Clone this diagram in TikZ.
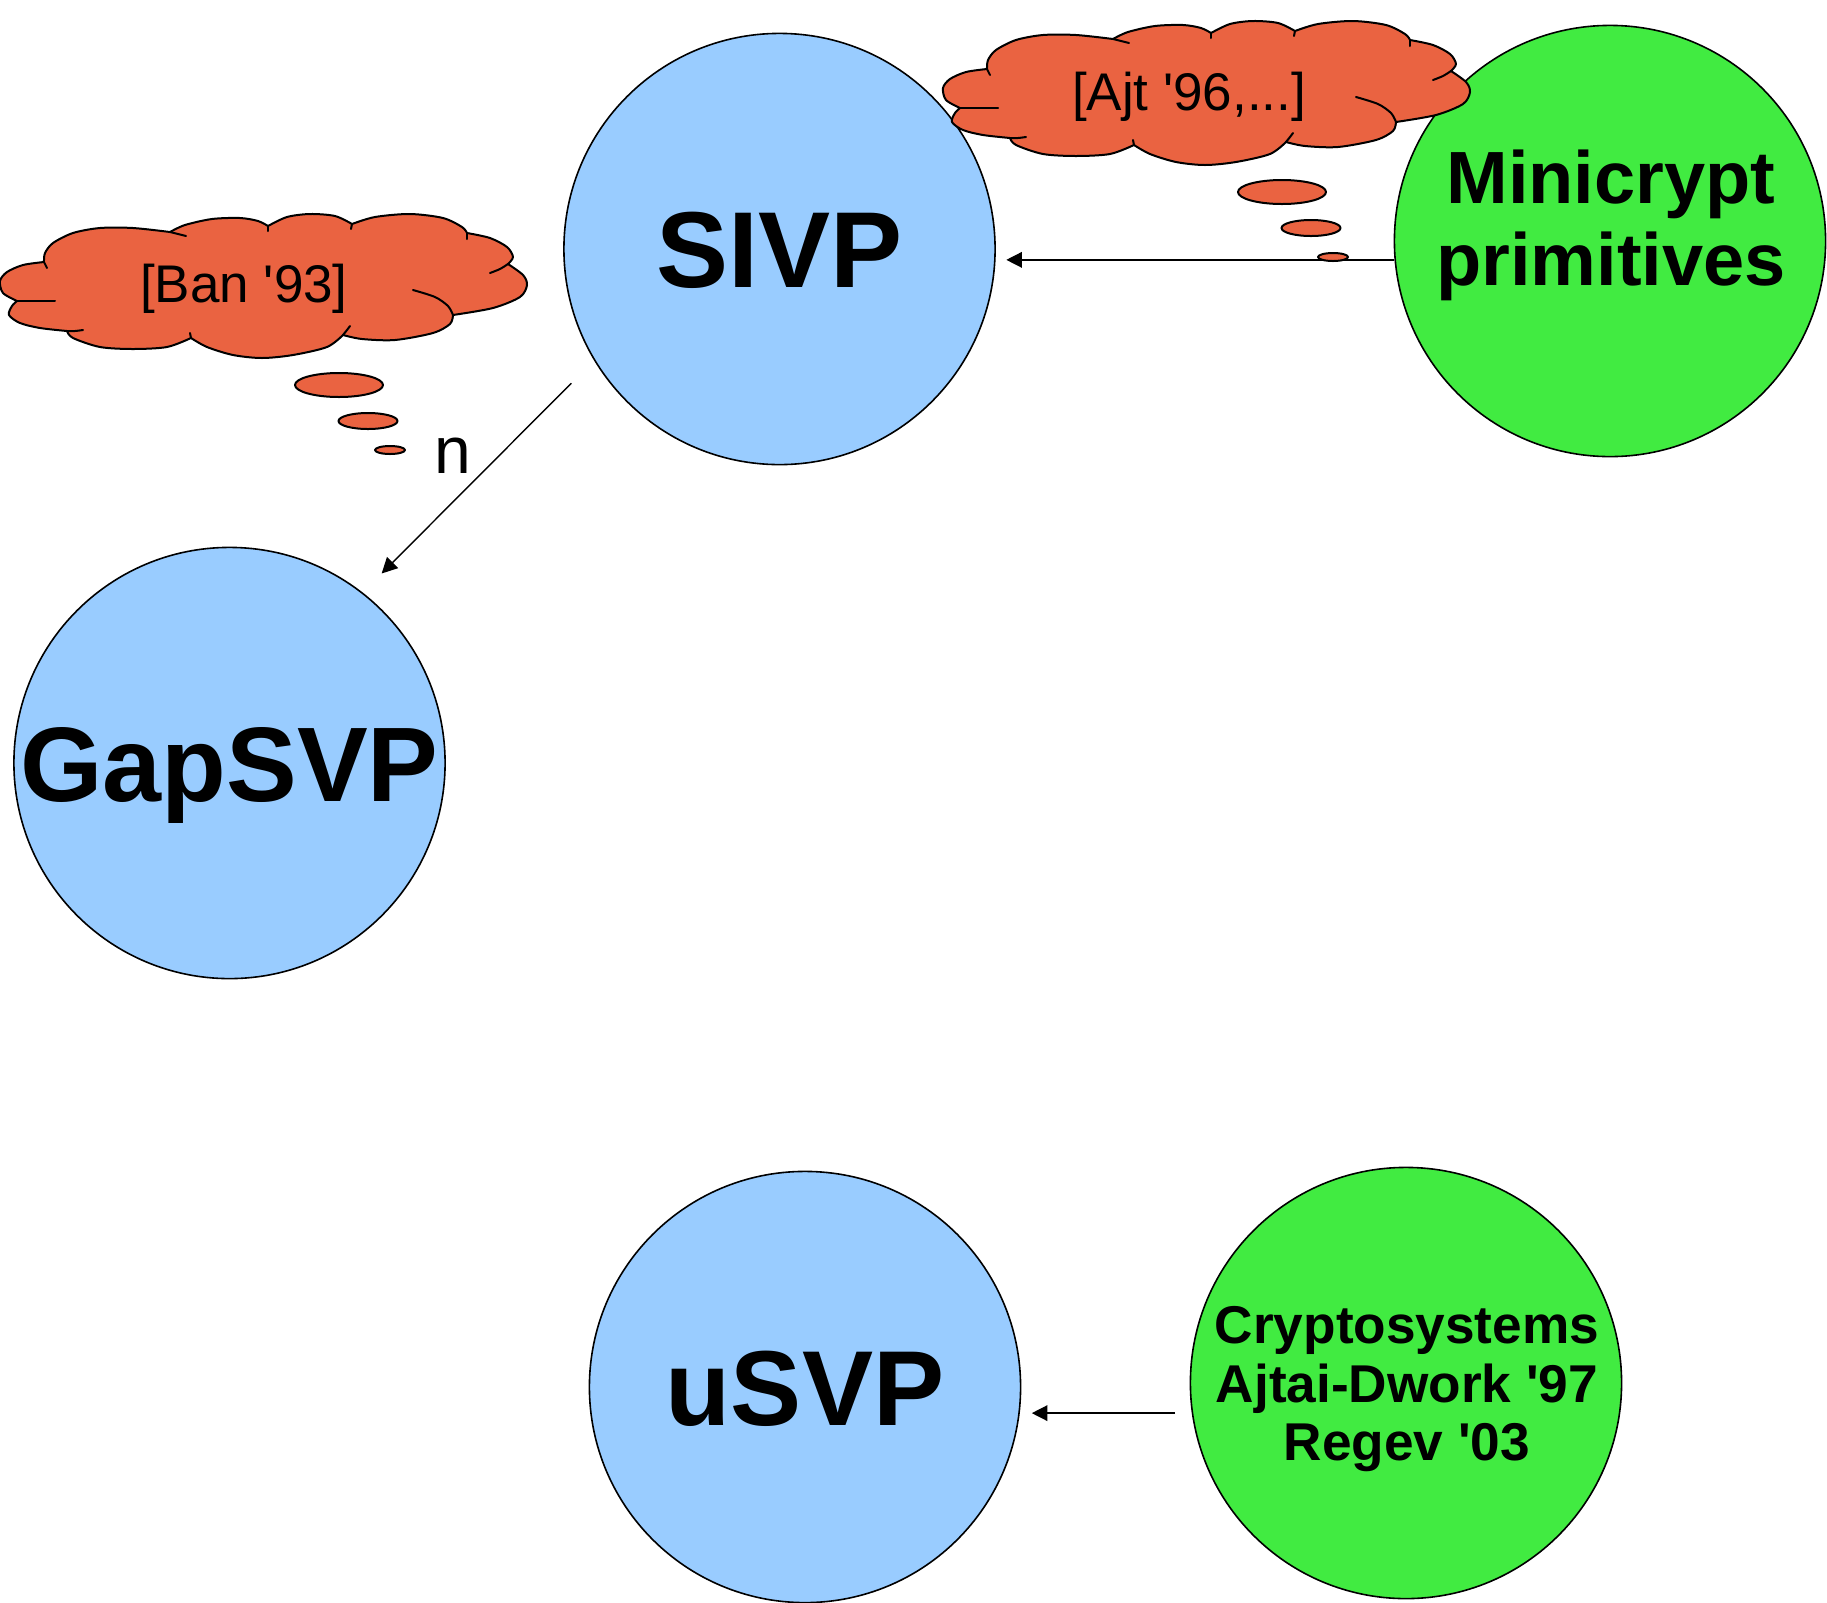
\documentclass[tikz,border=0pt]{standalone}
\usepackage{fontspec}
\setmainfont{Liberation Sans}
\usetikzlibrary{arrows.meta}
\definecolor{cloudorange}{RGB}{234,99,65}
\definecolor{nodeblue}{RGB}{153,204,255}
\definecolor{nodegreen}{RGB}{65,235,65}
\newcommand\mythoughtcloud{%
  \filldraw[cloudst]
    plot[smooth] coordinates {(44,262) (45,253) (53,243) (73,233) (100,228) (133,228) (170,232)}
 -- plot[smooth] coordinates {(170,232) (185,225) (212,219) (240,218) (258,221) (268,226)}
 -- plot[smooth] coordinates {(268,226) (287,217) (310,214) (335,216) (352,224)}
 -- plot[smooth] coordinates {(352,224) (375,217) (410,214) (443,218) (462,227) (467,233)}
 -- plot[smooth] coordinates {(467,233) (490,238) (507,247) (513,257) (508,264)}
 -- plot[smooth] coordinates {(508,264) (523,275) (527,285) (520,297) (493,308) (453,315)}
 -- plot[smooth] coordinates {(453,315) (450,324) (433,333) (395,340) (362,339) (343,335)}
 -- plot[smooth] coordinates {(343,335) (327,347) (293,355) (262,358) (233,355) (207,347) (191,338)}
 -- plot[smooth] coordinates {(191,338) (167,347) (133,349) (100,347) (73,338) (67,331)}
 -- plot[smooth] coordinates {(67,331) (40,328) (20,323) (9,315) (12,306) (17,301)}
 -- plot[smooth] coordinates {(17,301) (3,293) (0,281) (7,272) (23,265) (44,262)}
 -- cycle;
  \draw[cloudline] plot[smooth] coordinates {(17,301) (35,301) (55,301)};
  \draw[cloudline] plot[smooth] coordinates {(44,262) (45.5,265) (47,268)};
  \draw[cloudline] plot[smooth] coordinates {(67,331) (75,331) (83,330)};
  \draw[cloudline] plot[smooth] coordinates {(170,232) (178,234) (186,236)};
  \draw[cloudline] (268,226) -- (268,231);
  \draw[cloudline] (352,224) -- (351,229);
  \draw[cloudline] (467,233) -- (467,239);
  \draw[cloudline] plot[smooth] coordinates {(508,264) (500,269) (490,273)};
  \draw[cloudline] plot[smooth] coordinates {(413,290) (435,297) (448,306) (453,315)};
  \draw[cloudline] plot[smooth] coordinates {(343,335) (347,330) (350,326)};
  \draw[cloudline] (191,338) -- (190,333);
  \filldraw[cloudst] (339,385) ellipse [x radius=22pt, y radius=6pt];
  \filldraw[cloudst] (368,421) ellipse [x radius=14.75pt, y radius=4pt];
  \filldraw[cloudst] (390,450) ellipse [x radius=7.5pt, y radius=2pt];
}
\begin{document}
\begin{tikzpicture}[x=0.5pt, y=-0.5pt,
  bigcirc/.style={circle, draw=black, line width=0.8pt, minimum size=215.6pt, inner sep=0pt},
  bigtext/.style={font=\bfseries, anchor=base, inner sep=0pt},
  minitext/.style={font=\fontsize{37}{40}\selectfont\bfseries, anchor=base, inner sep=0pt},
  cryptext/.style={font=\fontsize{26.6}{29}\selectfont\bfseries, anchor=base, inner sep=0pt},
  cloudtext/.style={font=\fontsize{26.5}{30}\selectfont, anchor=base, inner sep=0pt},
  cloudst/.style={fill=cloudorange, draw=black, line width=1pt, line join=round},
  cloudline/.style={draw=black, line width=1pt, line cap=round},
  arr/.style={-{Triangle[length=7.8pt,width=7.8pt]}, line width=0.7pt}]
\fill[white] (0,0) rectangle (1827,1602);
\useasboundingbox (0,0) rectangle (1827,1602);

\node[bigcirc, fill=nodeblue]  (sivp)   at (779.5,249) {};
\node[bigcirc, fill=nodegreen] (mini)   at (1610,241) {};
\node[bigcirc, fill=nodeblue]  (gap)    at (229.5,763) {};
\node[bigcirc, fill=nodeblue]  (usvp)   at (805,1387) {};
\node[bigcirc, fill=nodegreen] (crypto) at (1406,1383) {};

\node[bigtext] (sivpT) at (779.5,287.7) {\fontsize{54}{60}\selectfont SIVP};
\node[bigtext] (gapT)  at (229.5,801.7) {\fontsize{53}{60}\selectfont GapSVP};
\node[bigtext] (usvpT) at (805,1425.7) {\fontsize{53.3}{60}\selectfont uSVP};
\node[minitext] (miniT1) at (1611,203) {Minicrypt};
\node[minitext] (miniT2) at (1611,285) {primitives};
\node[cryptext] (cryT1) at (1407,1343) {Cryptosystems};
\node[cryptext] (cryT2) at (1407,1402) {Ajtai-Dwork \textquotesingle 97};
\node[cryptext] (cryT3) at (1407,1460) {Regev \textquotesingle 03};

\draw[arr, shorten >=5.2pt] (mini.185.59) -- (sivp.east |- mini.185.59);
\draw[arr, shorten <=16.1pt, shorten >=13.4pt] (sivp.211.05) -- (gap.52.06);
\draw[arr, shorten <=8.3pt, shorten >=5.2pt] (crypto.188.27) -- (usvp.east |- crypto.188.27);

\mythoughtcloud
\node[cloudtext] (banT) at (244,302) {[Ban \textquotesingle 93]};
\begin{scope}[shift={(943,-193)}]
  \mythoughtcloud
\end{scope}
\node[cloudtext] (ajtT) at (1189,110) {[Ajt \textquotesingle 96,...]};

\node[font=\fontsize{33}{36}\selectfont, anchor=base, inner sep=0pt] (nlab) at (453,473) {n};
\end{tikzpicture}
\end{document}
